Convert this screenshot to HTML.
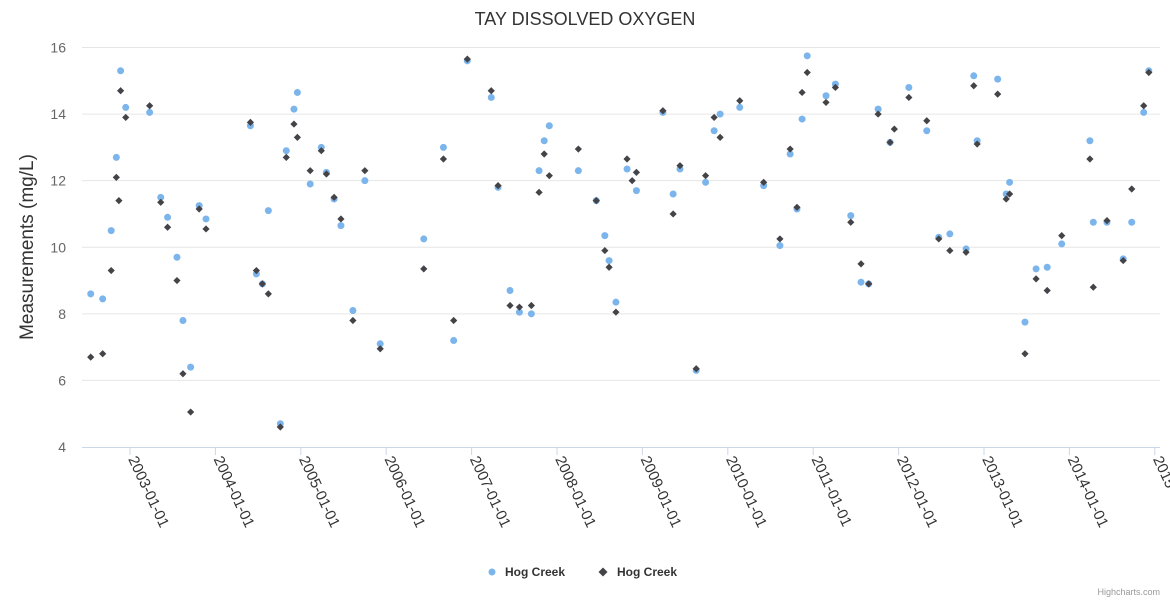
<!DOCTYPE html>
<html><head><meta charset="utf-8"><style>
body{margin:0;background:#fff;}
svg{display:block;font-family:"Liberation Sans","DejaVu Sans",sans-serif;}
</style></head><body>
<svg id="chart" width="1170" height="600">
<rect width="1170" height="600" fill="#fff"/>
<text x="585" y="25" text-anchor="middle" font-size="18" fill="#333">TAY DISSOLVED OXYGEN</text>
<text transform="translate(33,247) rotate(-90)" text-anchor="middle" font-size="19" fill="#333">Measurements (mg/L)</text>
<g id="grid"></g>
<g id="yticks"></g>
<g id="xticks"></g>
<g id="s1"></g>
<g id="s2"></g>
<g>
<g><circle cx="492" cy="572" r="3.5" fill="#7cb5ec"/><text x="505" y="576" font-size="12" font-weight="bold" fill="#333">Hog Creek</text></g>
<g><path d="M603 567.5 L607.5 572 L603 576.5 L598.5 572 Z" fill="#434348"/><text x="617" y="576" font-size="12" font-weight="bold" fill="#333">Hog Creek</text></g>
</g>
<text x="1160" y="595" text-anchor="end" font-size="9" fill="#999">Highcharts.com</text>
</svg>
<script>
const yTicks=[4,6,8,10,12,14,16];
const xTickYears=[2003,2004,2005,2006,2007,2008,2009,2010,2011,2012,2013,2014,2015];
const xTickLabels=["2003-01-01","2004-01-01","2005-01-01","2006-01-01","2007-01-01","2008-01-01","2009-01-01","2010-01-01","2011-01-01","2012-01-01","2013-01-01","2014-01-01","2015-01-01"];
const blueX=[2002.54,2002.68,2002.78,2002.84,2002.89,2002.95,2003.23,2003.36,2003.44,2003.55,2003.62,2003.71,2003.81,2003.89,2004.41,2004.48,2004.55,2004.62,2004.76,2004.83,2004.92,2004.96,2005.11,2005.24,2005.30,2005.39,2005.47,2005.61,2005.75,2005.93,2006.44,2006.67,2006.79,2006.95,2007.23,2007.31,2007.45,2007.56,2007.70,2007.79,2007.85,2007.91,2008.25,2008.46,2008.56,2008.61,2008.69,2008.82,2008.93,2009.24,2009.36,2009.44,2009.63,2009.74,2009.84,2009.91,2010.14,2010.42,2010.61,2010.73,2010.81,2010.87,2010.93,2011.15,2011.26,2011.44,2011.56,2011.65,2011.76,2011.90,2012.12,2012.33,2012.47,2012.60,2012.79,2012.88,2012.92,2013.16,2013.26,2013.30,2013.48,2013.61,2013.74,2013.91,2014.24,2014.28,2014.44,2014.63,2014.73,2014.87,2014.93];
const blueY=[8.6,8.45,10.5,12.7,15.3,14.2,14.05,11.5,10.9,9.7,7.8,6.4,11.25,10.85,13.65,9.2,8.9,11.1,4.7,12.9,14.15,14.65,11.9,13.0,12.25,11.45,10.65,8.1,12.0,7.1,10.25,13.0,7.2,15.6,14.5,11.8,8.7,8.05,8.0,12.3,13.2,13.65,12.3,11.4,10.35,9.6,8.35,12.35,11.7,14.05,11.6,12.35,6.3,11.95,13.5,14.0,14.2,11.85,10.05,12.8,11.15,13.85,15.75,14.55,14.9,10.95,8.95,8.9,14.15,13.15,14.8,13.5,10.3,10.4,9.95,15.15,13.2,15.05,11.6,11.95,7.75,9.35,9.4,10.1,13.2,10.75,10.75,9.65,10.75,14.05,15.3];
const blackX=[2002.54,2002.68,2002.78,2002.84,2002.87,2002.89,2002.95,2003.23,2003.36,2003.44,2003.55,2003.62,2003.71,2003.81,2003.89,2004.41,2004.48,2004.55,2004.62,2004.76,2004.83,2004.92,2004.96,2005.11,2005.24,2005.30,2005.39,2005.47,2005.61,2005.75,2005.93,2006.44,2006.67,2006.79,2006.95,2007.23,2007.31,2007.45,2007.56,2007.70,2007.79,2007.85,2007.91,2008.25,2008.46,2008.56,2008.61,2008.69,2008.82,2008.88,2008.93,2009.24,2009.36,2009.44,2009.63,2009.74,2009.84,2009.91,2010.14,2010.42,2010.61,2010.73,2010.81,2010.87,2010.93,2011.15,2011.26,2011.44,2011.56,2011.65,2011.76,2011.90,2011.95,2012.12,2012.33,2012.47,2012.60,2012.79,2012.88,2012.92,2013.16,2013.26,2013.30,2013.48,2013.61,2013.74,2013.91,2014.24,2014.28,2014.44,2014.63,2014.73,2014.87,2014.93];
const blackY=[6.7,6.8,9.3,12.1,11.4,14.7,13.9,14.25,11.35,10.6,9.0,6.2,5.05,11.15,10.55,13.75,9.3,8.9,8.6,4.6,12.7,13.7,13.3,12.3,12.9,12.2,11.5,10.85,7.8,12.3,6.95,9.35,12.65,7.8,15.65,14.7,11.85,8.25,8.2,8.25,11.65,12.8,12.15,12.95,11.4,9.9,9.4,8.05,12.65,12.0,12.25,14.1,11.0,12.45,6.35,12.15,13.9,13.3,14.4,11.95,10.25,12.95,11.2,14.65,15.25,14.35,14.8,10.75,9.5,8.9,14.0,13.15,13.55,14.5,13.8,10.25,9.9,9.85,14.85,13.1,14.6,11.45,11.6,6.8,9.05,8.7,10.35,12.65,8.8,10.8,9.6,11.75,14.25,15.25];

const NS='http://www.w3.org/2000/svg';
const L=82,R=1160,T=47.5,B=447;
const yMin=4,yMax=16;
function yS(v){return B-(v-yMin)/(yMax-yMin)*(B-T);}
function xS(yr){return 130+(yr-2003)*85.4;}
function mk(tag,attrs,parent){const e=document.createElementNS(NS,tag);for(const k in attrs)e.setAttribute(k,attrs[k]);parent.appendChild(e);return e;}
const grid=document.getElementById('grid'),yt=document.getElementById('yticks'),xt=document.getElementById('xticks');
yTicks.forEach(v=>{
  if(v>yMin){const l=mk('line',{x1:L,x2:R,y1:yS(v),y2:yS(v),stroke:'#e6e6e6','stroke-width':1},grid);
  
  }
  const t=mk('text',{x:66,y:yS(v)+5,'text-anchor':'end','font-size':14,fill:'#666'},yt);
  t.textContent=v;
  
  
});
const ax=mk('line',{x1:L,x2:R,y1:B+0.5,y2:B+0.5,stroke:'#ccd6eb','stroke-width':1},grid);


xTickYears.forEach((yr,i)=>{
  const x=xS(yr);
  const tk=mk('line',{x1:x,x2:x,y1:B,y2:B+8,stroke:'#ccd6eb'},grid);
  
  
  const tx=x-2,ty=B+12;
  const t=mk('text',{x:tx,y:ty,'font-size':15,fill:'#333',transform:`rotate(65 ${tx} ${ty})`},xt);
  t.textContent=xTickLabels[i];
  
  
});
const s1=document.getElementById('s1'),s2=document.getElementById('s2');
blueX.forEach((x,i)=>{
  const c=mk('circle',{cx:xS(x),cy:yS(blueY[i]),r:3.5,fill:'#7cb5ec'},s1);
  
  
});
blackX.forEach((x,i)=>{
  const px=xS(x),py=yS(blackY[i]),d=3.6;
  const p=mk('path',{d:`M${px} ${py-d}L${px+d} ${py}L${px} ${py+d}L${px-d} ${py}Z`,fill:'#434348'},s2);
  
  
});
</script>
</body></html>
